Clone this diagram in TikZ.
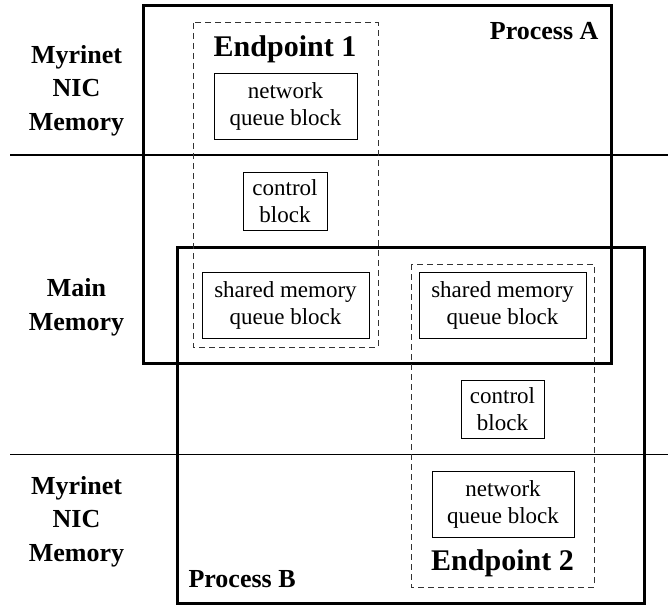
\documentclass[tikz,border=0pt]{standalone}
\usepackage{fontspec}
\setmainfont{Liberation Serif}
\usetikzlibrary{positioning}

\tikzset{
    procbox/.style={draw, line width=3pt},
    endbox/.style={draw, line width=1pt, dash pattern=on 6pt off 4pt, color=black!80},
    blockbox/.style={draw, line width=0.9pt, align=center, inner sep=0pt,
        font=\fontsize{23}{27}\selectfont},
    memlabel/.style={align=center, font=\bfseries\fontsize{26}{33.5}\selectfont},
    proclabel/.style={font=\bfseries\fontsize{26}{30}\selectfont},
    endlabel/.style={font=\bfseries\fontsize{30}{36}\selectfont},
    divider/.style={line width=1pt}
}

\begin{document}
\begin{tikzpicture}[x=1pt, y=-1pt]
    \useasboundingbox (0, 0) rectangle (668, 604);
    % Memory regions
    \coordinate (d1l) at (10, 155);
    \coordinate (d1r) at (668, 155);
    \coordinate (d2l) at (10, 454);
    \coordinate (d2r) at (668, 454);
    \draw[divider] (d1l) -- (d1r);
    \draw[divider] (d2l) -- (d2r);
    \node[memlabel] (nic1) at (76.5, 90.5) {Myrinet\\NIC\\Memory};
    \node[memlabel] (mainmem) at (76.5, 307.5) {Main\\Memory};
    \node[memlabel] (nic2) at (76.5, 521.5) {Myrinet\\NIC\\Memory};
    % Processes
    \draw[procbox] (177, 247) rectangle (644, 603);
    \draw[procbox] (143, 6) rectangle (611, 363);
    \node[proclabel, anchor=base east] (procA) at (602, 40) {Process A};
    \node[proclabel, anchor=base west] (procB) at (185, 587) {Process B};
    % Endpoint 1
    \draw[endbox] (193, 23) rectangle (378, 347);
    \node[endlabel, anchor=base] (ep1) at (285, 57) {Endpoint 1};
    \node[blockbox, minimum width=143pt, minimum height=66pt] (netq1) at (285.5, 106) {network\\queue block};
    \node[blockbox, minimum width=84pt, minimum height=58pt] (ctrl1) at (285, 201) {control\\block};
    \node[blockbox, minimum width=167pt, minimum height=66pt] (shmq1) at (285.5, 305) {shared memory\\queue block};
    % Endpoint 2
    \draw[endbox] (411, 264) rectangle (594, 587);
    \node[blockbox, minimum width=167pt, minimum height=66pt] (shmq2) at (502.5, 305) {shared memory\\queue block};
    \node[blockbox, minimum width=83pt, minimum height=58pt] (ctrl2) at (502.5, 409) {control\\block};
    \node[blockbox, minimum width=142pt, minimum height=66pt] (netq2) at (503, 504) {network\\queue block};
    \node[endlabel, anchor=base] (ep2) at (502.5, 570) {Endpoint 2};
\end{tikzpicture}
\end{document}
